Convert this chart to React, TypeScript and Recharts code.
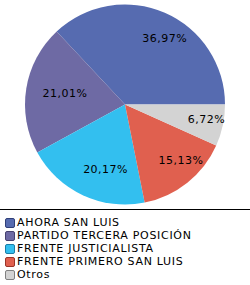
import { PieChart, Pie, Cell } from 'recharts';

const parties = [
  'AHORA SAN LUIS',
  'PARTIDO TERCERA POSICIÓN',
  'FRENTE JUSTICIALISTA',
  'FRENTE PRIMERO SAN LUIS',
  'Otros',
];
const shares = [36.97, 21.01, 20.17, 15.13, 6.72];
const colors = ['#566bb0', '#6e6aa4', '#33bfef', '#e0604f', '#d3d3d3'];
const borders = ['#2f3f78', '#45416f', '#1a7fa8', '#9a3428', '#808080'];

const data = parties.map((name, i) => ({ name, value: shares[i] }));

const RAD = Math.PI / 180;

const renderLabel = (props: any) => {
  const { cx, cy, midAngle, outerRadius, value } = props;
  const r = outerRadius * 0.72;
  const x = cx + r * Math.cos(-midAngle * RAD);
  const y = cy + r * Math.sin(-midAngle * RAD);
  return (
    <text
      x={x}
      y={y}
      dx={11}
      textAnchor="middle"
      dominantBaseline="central"
      fill="#000"
      fontSize={11}
      fontFamily="DejaVu Sans"
      letterSpacing={0.5}
    >
      {`${value.toFixed(2).replace('.', ',')}%`}
    </text>
  );
};

export default function App() {
  return (
    <div
      style={{
        position: 'absolute',
        top: 0,
        left: 0,
        width: 250,
        height: 285,
        background: '#fff',
        fontFamily: 'DejaVu Sans',
      }}
    >
      <PieChart width={250} height={209} margin={{ top: 0, right: 0, bottom: 0, left: 0 }}>
        <Pie
          data={data}
          dataKey="value"
          cx={125}
          cy={104.5}
          outerRadius={100}
          startAngle={0}
          endAngle={360}
          stroke="none"
          labelLine={false}
          label={renderLabel}
          isAnimationActive={false}
        >
          {data.map((d, i) => (
            <Cell key={d.name} fill={colors[i]} />
          ))}
        </Pie>
      </PieChart>
      <div style={{ borderTop: '1px solid #000', width: 250 }} />
      <div style={{ paddingTop: 6, paddingLeft: 5 }}>
        {data.map((d, i) => (
          <div
            key={d.name}
            style={{
              display: 'flex',
              alignItems: 'center',
              height: 13,
              fontSize: 11,
              letterSpacing: 0.7,
              color: '#000',
              whiteSpace: 'nowrap',
            }}
          >
            <span
              style={{
                display: 'inline-block',
                width: 8,
                height: 8,
                background: colors[i],
                border: `1px solid ${borders[i]}`,
                borderRadius: 2,
                marginRight: 2,
              }}
            />
            {d.name}
          </div>
        ))}
      </div>
    </div>
  );
}
